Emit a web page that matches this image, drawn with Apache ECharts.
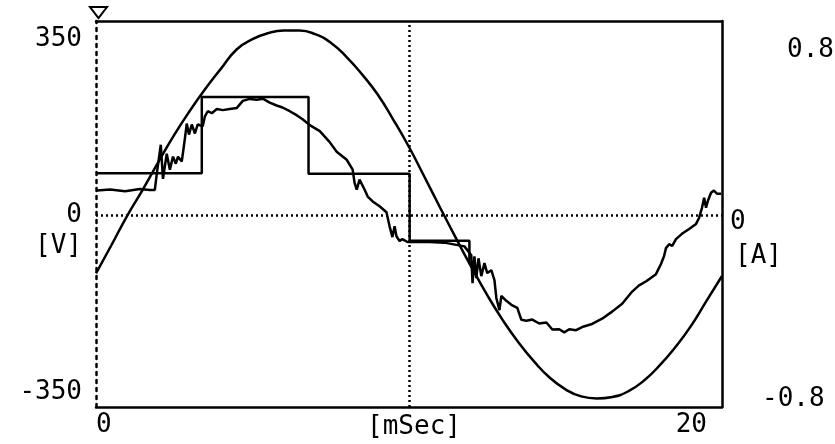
<!DOCTYPE html>
<html>
<head>
<meta charset="utf-8">
<script src="https://cdn.jsdelivr.net/npm/echarts@6/dist/echarts.min.js"></script>
<style>
  html, body { margin: 0; padding: 0; background: #ffffff; }
  #chart { width: 835px; height: 444px; }
</style>
</head>
<body>
<div id="chart"></div>
<script>
// ---- data ----
const sineTimes = [0,0.5,1,1.5,2,2.5,3,3.5,4,4.5,5,5.5,6,6.5,7,7.5,8,8.5,9,9.5,10,10.5,11,11.5,12,12.5,13,13.5,14,14.5,15,15.5,16,16.5,17,17.5,18,18.5,19,19.5,20];
const sineVolts = [-115,-58,0,52,107,160,208,252,292,330,350,362,367,367,360,343,315,280,240,190,136,76,15,-45,-103,-158,-208,-252,-290,-322,-345,-359,-363,-360,-349,-328,-298,-262,-220,-170,-120];

const stepTimes = [0, 3.38, 6.79, 10.02, 11.93];
const stepVolts = [84, 235, 83, -50, -95];

const currentTimes = [0.03,0.45,0.93,1.40,1.72,1.88,1.95,2.07,2.14,2.26,2.36,2.46,2.55,2.62,2.74,2.84,2.90,2.97,3.06,3.16,3.25,3.41,3.48,3.57,3.70,3.86,4.05,4.27,4.50,4.69,4.91,5.14,5.33,5.55,5.77,5.96,6.19,6.41,6.60,6.83,7.15,7.46,7.69,8.01,8.20,8.26,8.33,8.42,8.58,8.68,8.84,9.06,9.28,9.38,9.47,9.54,9.60,9.70,9.79,9.95,10.49,11.13,11.77,11.99,12.03,12.09,12.15,12.22,12.31,12.41,12.50,12.63,12.73,12.79,12.89,12.95,13.11,13.27,13.46,13.59,13.75,13.94,14.16,14.39,14.58,14.80,14.96,15.12,15.34,15.53,15.85,16.17,16.49,16.81,17.13,17.35,17.58,17.89,18.05,18.15,18.21,18.31,18.41,18.53,18.72,18.95,19.17,19.27,19.36,19.43,19.49,19.55,19.65,19.74,19.84,19.97];
const currentAmps = [0.113,0.118,0.110,0.120,0.116,0.116,0.198,0.321,0.166,0.280,0.208,0.267,0.235,0.267,0.245,0.349,0.417,0.367,0.413,0.372,0.413,0.405,0.450,0.473,0.464,0.483,0.478,0.483,0.488,0.520,0.529,0.525,0.530,0.512,0.499,0.490,0.473,0.455,0.437,0.410,0.383,0.334,0.289,0.253,0.208,0.149,0.117,0.163,0.118,0.086,0.064,0.042,0.015,-0.049,-0.098,-0.049,-0.094,-0.116,-0.107,-0.120,-0.119,-0.123,-0.140,-0.180,-0.307,-0.185,-0.284,-0.194,-0.275,-0.216,-0.261,-0.248,-0.293,-0.374,-0.429,-0.365,-0.387,-0.405,-0.419,-0.473,-0.477,-0.472,-0.490,-0.485,-0.517,-0.516,-0.530,-0.516,-0.520,-0.506,-0.492,-0.468,-0.436,-0.400,-0.345,-0.317,-0.298,-0.266,-0.220,-0.184,-0.148,-0.130,-0.138,-0.107,-0.083,-0.061,-0.038,-0.010,0.035,0.081,0.035,0.067,0.103,0.113,0.099,0.099];

const xTicks = [0, 20];
const voltTicks = [-350, 0, 350];
const ampTicks = [-0.8, 0, 0.8];
const midTime = 10;

// ---- chart ----
const FONT = 'DejaVu Sans Mono';
const zip = (a, b) => a.map((v, i) => [v, b[i]]);

const chart = echarts.init(document.getElementById('chart'), null, { renderer: 'canvas' });
chart.setOption({
  backgroundColor: '#ffffff',
  animation: false,
  grid: { left: 96, right: 113, top: 21, bottom: 37, outerBoundsMode: 'none', containLabel: false },
  xAxis: [
    {
      type: 'value', min: 0, max: 20, position: 'bottom',
      axisLine: { show: true, onZero: false, lineStyle: { color: '#000', width: 2.5 } },
      axisTick: { show: false },
      splitLine: { show: false },
      axisLabel: {
        customValues: xTicks,
        alignMinLabel: 'left', alignMaxLabel: 'right',
        padding: [0, 15, 0, 0],
        margin: 5,
        color: '#000', fontFamily: FONT, fontSize: 26,
        formatter: v => String(v)
      },
      name: '[mSec]', nameLocation: 'middle', nameGap: 7, nameMoveOverlap: false,
      nameTextStyle: { color: '#000', fontFamily: FONT, fontSize: 26, verticalAlign: 'top', padding: [0, 0, 0, 10] }
    },
    {
      type: 'value', min: 0, max: 20, position: 'top',
      axisLine: { show: true, onZero: false, lineStyle: { color: '#000', width: 2.5 } },
      axisTick: { show: false }, axisLabel: { show: false }, splitLine: { show: false }
    }
  ],
  yAxis: [
    {
      type: 'value', min: -380, max: 386, position: 'left',
      axisLine: { show: true, onZero: false, lineStyle: { color: '#000', width: 2.5, type: [3, 5] } },
      axisTick: { show: false }, splitLine: { show: false },
      axisLabel: {
        customValues: voltTicks, margin: 14,
        color: '#000', fontFamily: FONT, fontSize: 26,
        formatter: v => String(v)
      }
    },
    {
      type: 'value', min: -380 * 0.8 / 350, max: 386 * 0.8 / 350, position: 'right',
      axisLine: { show: true, onZero: false, lineStyle: { color: '#000', width: 2.5 } },
      axisTick: { show: false }, splitLine: { show: false },
      axisLabel: {
        customValues: ampTicks, margin: 8, align: 'left',
        color: '#000', fontFamily: FONT, fontSize: 26,
        formatter: v => (v > 0.4 ? '{p|' + v + '}' : (v < -0.4 ? '{q|' + v + '}' : '{z|' + v + '}')),
        rich: {
          p: { fontFamily: FONT, fontSize: 26, color: '#000', padding: [22, 0, 0, 57] },
          q: { fontFamily: FONT, fontSize: 26, color: '#000', padding: [14, 0, 0, 32] },
          z: { fontFamily: FONT, fontSize: 26, color: '#000', padding: [13, 0, 0, 0] }
        }
      }
    }
  ],
  series: [
    {
      name: 'voltage', type: 'line', xAxisIndex: 0, yAxisIndex: 0,
      data: zip(sineTimes, sineVolts), smooth: true, showSymbol: false,
      lineStyle: { color: '#000', width: 2.5 },
      markLine: {
        silent: true, symbol: 'none', label: { show: false },
        lineStyle: { color: '#000', width: 2.5, type: [2, 3] },
        data: [{ yAxis: 0 }, { xAxis: midTime }]
      }
    },
    {
      name: 'step', type: 'line', xAxisIndex: 0, yAxisIndex: 0,
      data: zip(stepTimes, stepVolts), step: 'end', showSymbol: false,
      lineStyle: { color: '#000', width: 2.5 }
    },
    {
      name: 'current', type: 'line', xAxisIndex: 0, yAxisIndex: 1,
      data: zip(currentTimes, currentAmps), showSymbol: false,
      lineStyle: { color: '#000', width: 2.5 }
    }
  ],
  graphic: [
    { type: 'text', left: 35, top: 233, style: { text: '[V]', fill: '#000', font: '26px "DejaVu Sans Mono"' } },
    { type: 'text', left: 735, top: 243, style: { text: '[A]', fill: '#000', font: '26px "DejaVu Sans Mono"' } },
    { type: 'polygon', shape: { points: [[90, 7], [107, 7], [98.5, 18]] }, style: { fill: '#fff', stroke: '#000', lineWidth: 2 } }
  ]
});
</script>
</body>
</html>
